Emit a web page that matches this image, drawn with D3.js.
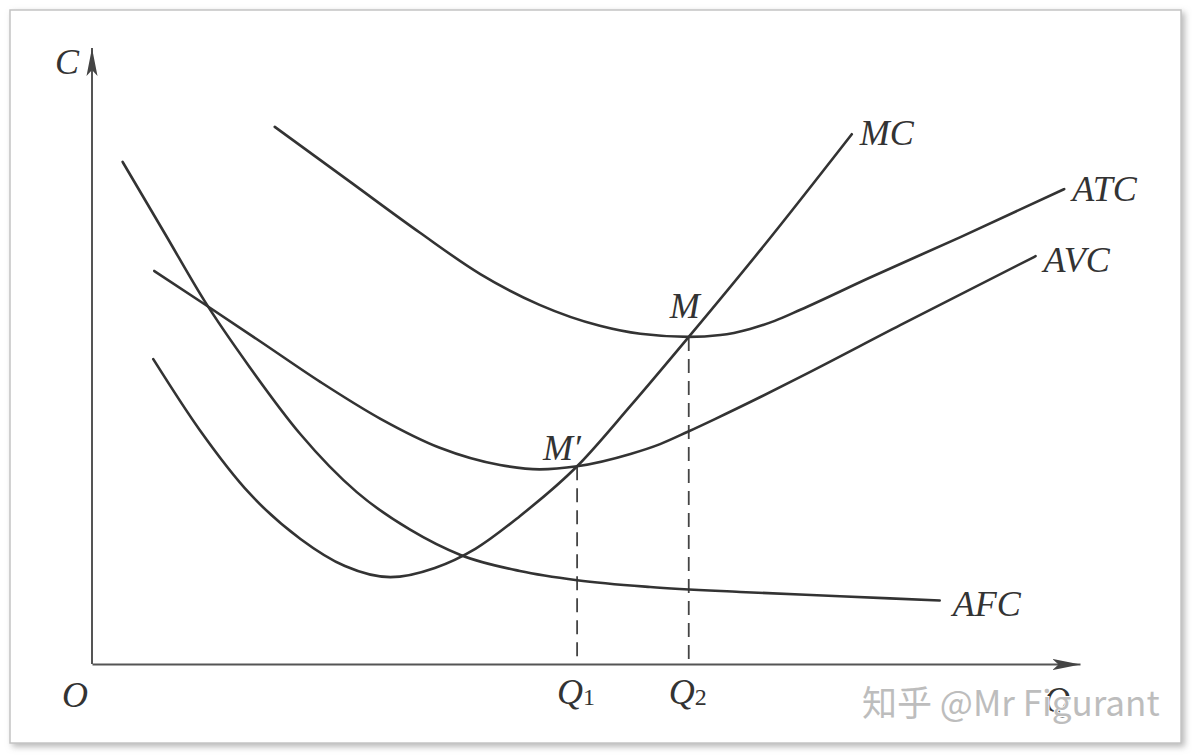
<!DOCTYPE html>
<html>
<head>
<meta charset="utf-8">
<script src="https://cdn.jsdelivr.net/npm/d3@7"></script>
<style>
  body { margin: 0; background: #fff; }
  .curve { fill: none; stroke: #333; stroke-width: 2.6; stroke-linecap: round; }
  .guide { stroke: #444; stroke-width: 1.8; stroke-dasharray: 14 8; }
  .lbl { font-family: "Liberation Serif", "DejaVu Serif", serif; font-style: italic; font-size: 36px; fill: #333; }
  .sub { font-family: "Liberation Serif", serif; font-style: normal; font-size: 24px; }
  .axis path { stroke: #555; stroke-width: 2; }
  .wm { font-family: "Noto Sans CJK SC", "Noto Sans", sans-serif; font-size: 35px; fill: #bdbdbd; stroke: #fff; stroke-width: 2; paint-order: stroke; }
</style>
</head>
<body>
<div id="chart"></div>
<script>
// quantity (Q) and cost (C), arbitrary units 0-10
const mcQ  = [0.62, 1.09, 1.60, 2.11, 2.56, 3.02, 3.47, 3.88, 4.33, 4.91, 5.45, 6.04, 6.76, 7.69];
const mcC  = [4.95, 3.80, 2.76, 2.03, 1.59, 1.41, 1.56, 1.87, 2.40, 3.21, 4.19, 5.31, 6.71, 8.60];

const atcQ = [1.85, 2.61, 3.32, 3.93, 4.53, 5.14, 5.55, 6.04, 6.36, 6.66, 6.91, 7.17, 7.87, 8.79, 9.84];
const atcC = [8.72, 7.83, 7.00, 6.33, 5.83, 5.49, 5.36, 5.31, 5.34, 5.44, 5.57, 5.75, 6.27, 6.93, 7.71];

const avcQ = [0.63, 1.14, 1.70, 2.31, 2.92, 3.52, 4.13, 4.53, 4.91, 5.45, 5.75, 6.03, 6.31, 6.76, 7.17, 8.18, 9.55];
const avcC = [6.38, 5.84, 5.24, 4.58, 3.98, 3.51, 3.23, 3.16, 3.21, 3.41, 3.57, 3.77, 3.98, 4.33, 4.66, 5.50, 6.62];

const afcQ = [0.31, 0.74, 1.14, 1.60, 2.11, 2.68, 3.22, 3.73, 4.33, 4.91, 5.65, 6.56, 7.57, 8.58];
const afcC = [8.15, 6.98, 5.89, 4.81, 3.73, 2.79, 2.18, 1.77, 1.51, 1.36, 1.25, 1.17, 1.10, 1.03];

// intersection points M' (MC = AVC) and M (MC = ATC)
const pointNames = ["M′", "M"];
const pointQ = [4.91, 6.04];
const pointC = [3.21, 5.31];
const qTicks = ["1", "2"];

const W = 1192, H = 755;
const svg = d3.select("#chart").append("svg").attr("width", W).attr("height", H);

const defs = svg.append("defs");
const f = defs.append("filter").attr("id", "sh").attr("x", "-5%").attr("y", "-5%").attr("width", "110%").attr("height", "110%");
f.append("feDropShadow").attr("dx", 3).attr("dy", 3).attr("stdDeviation", 3).attr("flood-color", "#999").attr("flood-opacity", 0.7);

defs.append("marker").attr("id", "arr").attr("viewBox", "0 -6 28 12")
    .attr("refX", 28).attr("refY", 0).attr("markerWidth", 28).attr("markerHeight", 12)
    .attr("markerUnits", "userSpaceOnUse").attr("orient", "auto")
  .append("path").attr("d", "M0,-5.5L28,0L0,5.5L6,0Z").attr("fill", "#444");

// frame of the scan
svg.append("rect").attr("x", 10).attr("y", 10).attr("width", 1171).attr("height", 733)
    .attr("fill", "#fff").attr("stroke", "#c4c4c4").attr("stroke-width", 1.5).attr("filter", "url(#sh)");

const x = d3.scaleLinear().domain([0, 10]).range([92, 1080]);
const y = d3.scaleLinear().domain([0, 10]).range([664, 48]);

// axes (domain lines only, with arrow heads)
svg.append("g").attr("class", "axis").attr("transform", `translate(0,${y(0)})`)
    .call(d3.axisBottom(x).tickValues([]).tickSizeOuter(0))
    .select(".domain").attr("marker-end", "url(#arr)");
const ya = svg.append("g").attr("class", "axis").attr("transform", `translate(${x(0)},0)`)
    .call(d3.axisLeft(y).tickValues([]).tickSizeOuter(0));
ya.select(".domain").attr("d", `M0,${y(0)}V${y(10)}`).attr("marker-end", "url(#arr)");

// dashed guides from M' and M down to the Q axis
svg.selectAll(".guide").data(pointQ).enter().append("line").attr("class", "guide")
    .attr("x1", d => x(d)).attr("x2", d => x(d))
    .attr("y1", (d, i) => y(pointC[i])).attr("y2", y(0));

const line = d3.line().x(d => x(d[0])).y(d => y(d[1])).curve(d3.curveMonotoneX);
const series = [
  { name: "MC",  q: mcQ,  c: mcC,  dx: 8,  dy: 11 },
  { name: "ATC", q: atcQ, c: atcC, dx: 8,  dy: 12 },
  { name: "AVC", q: avcQ, c: avcC, dx: 8,  dy: 16 },
  { name: "AFC", q: afcQ, c: afcC, dx: 13, dy: 15 }
];

series.forEach(s => {
  const pts = d3.zip(s.q, s.c);
  svg.append("path").datum(pts).attr("class", "curve").attr("d", line);
  const end = pts[pts.length - 1];
  svg.append("text").attr("class", "lbl")
      .attr("x", x(end[0]) + s.dx).attr("y", y(end[1]) + s.dy).text(s.name);
});

// point labels
svg.selectAll(".plbl").data(pointNames).enter().append("text").attr("class", "lbl plbl")
    .attr("x", (d, i) => x(pointQ[i]) - (i === 0 ? 34 : 19))
    .attr("y", (d, i) => y(pointC[i]) - (i === 0 ? 6 : 19))
    .text(d => d);

// Q1, Q2 under the guides
qTicks.forEach((t, i) => {
  const tx = svg.append("text").attr("class", "lbl").attr("x", x(pointQ[i]) - 20).attr("y", y(0) + 40);
  tx.append("tspan").text("Q");
  tx.append("tspan").attr("class", "sub").attr("dy", 1).text(t);
});

// axis names and origin
svg.append("text").attr("class", "lbl").attr("x", x(0) - 37).attr("y", y(10) + 26).text("C");
svg.append("text").attr("class", "lbl").attr("x", x(0) - 30).attr("y", y(0) + 43).text("O");
svg.append("text").attr("class", "lbl").attr("x", x(10) - 36).attr("y", y(0) + 48).text("Q");

// watermark
svg.append("text").attr("class", "wm").attr("x", 862).attr("y", 716).text("知乎 @Mr Figurant");
</script>
</body>
</html>
